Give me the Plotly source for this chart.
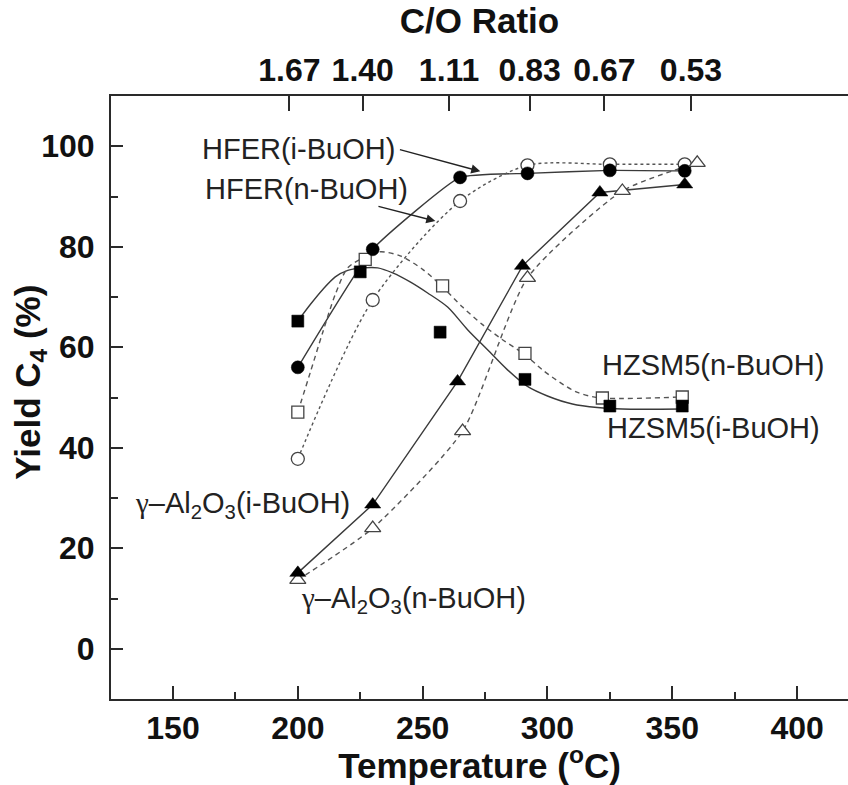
import plotly.graph_objects as go

# ---------------- data ----------------
temp_hfer_i = [200, 230, 265, 292, 325, 355]
hfer_i = [56.0, 79.5, 93.8, 94.6, 95.2, 95.1]

temp_hfer_n = [200, 230, 265, 292, 325, 355]
hfer_n = [37.8, 69.4, 89.1, 96.2, 96.4, 96.4]

temp_zsm_i = [200, 225, 257, 291, 325, 354]
zsm_i = [65.2, 75.0, 63.0, 53.6, 48.3, 48.3]

temp_zsm_n = [200, 227, 258, 291, 322, 354]
zsm_n = [47.1, 77.5, 72.2, 58.8, 49.9, 50.1]

# smooth fitted curves as drawn through the HZSM5 data
fit_zsm_i_t = [200, 205, 210, 215, 220, 226, 232, 238, 245, 252, 260, 268, 276, 284, 292, 300, 310, 320, 330, 354]
fit_zsm_i_y = [65.2, 68.5, 71.5, 74.0, 75.3, 75.8, 75.8, 74.8, 73.0, 70.8, 68.0, 63.5, 59.5, 55.5, 52.2, 50.3, 48.7, 48.0, 47.7, 47.7]
fit_zsm_n_t = [200, 205, 210, 215, 220, 227, 233, 241, 250, 258, 266, 274, 282, 291, 298, 305, 312, 320, 330, 354]
fit_zsm_n_y = [47.1, 55.0, 63.0, 70.5, 75.8, 78.0, 79.0, 78.2, 75.5, 72.0, 68.0, 64.5, 61.5, 58.5, 55.5, 53.0, 51.0, 50.0, 49.8, 50.1]

temp_al_i = [200, 230, 264, 290, 321, 355]
al_i = [15.1, 28.7, 53.2, 76.2, 90.8, 92.4]

temp_al_n = [200, 230, 266, 292, 330, 360]
al_n = [13.7, 24.0, 43.3, 73.8, 91.1, 96.7]

co_ratio_pos = [196.6, 226.0, 260.6, 292.9, 322.8, 357.5]
co_ratio_labels = ["1.67", "1.40", "1.11", "0.83", "0.67", "0.53"]

x_ticks = [150, 200, 250, 300, 350, 400]
y_ticks = [0, 20, 40, 60, 80, 100]

# ---------------- styling ----------------
FONT = "Liberation Sans, Arial, sans-serif"
LINE_C = "#3a3a3a"
DASH_C = "#555555"
AX_C = "#2a2a2a"

fig = go.Figure()

def solid(x, y, shape="spline", smoothing=0.6):
    fig.add_trace(go.Scatter(x=x, y=y, mode="lines", showlegend=False, hoverinfo="skip",
                             line=dict(color=LINE_C, width=1.4, shape=shape, smoothing=smoothing)))

def dashed(x, y, dash="5px,4px", shape="spline", smoothing=0.8):
    fig.add_trace(go.Scatter(x=x, y=y, mode="lines", showlegend=False, hoverinfo="skip",
                             line=dict(color=DASH_C, width=1.4, dash=dash, shape=shape, smoothing=smoothing)))

def marks(x, y, symbol, filled, size):
    if filled:
        m = dict(symbol=symbol, size=size, color="black", line=dict(color="black", width=0.5))
    else:
        m = dict(symbol=symbol, size=size, color="white", line=dict(color="#444444", width=1.3))
    fig.add_trace(go.Scatter(x=x, y=y, mode="markers", showlegend=False, marker=m))

# lines
solid(temp_hfer_i, hfer_i, smoothing=0.4)
dashed(temp_hfer_n, hfer_n, dash="3px,3px")
solid(fit_zsm_i_t, fit_zsm_i_y, smoothing=0.8)
dashed(fit_zsm_n_t, fit_zsm_n_y, smoothing=0.8)
solid(temp_al_i, al_i, shape="linear")
dashed(temp_al_n, al_n, smoothing=0.6)

# markers
marks(temp_zsm_n, zsm_n, "square", False, 12)
marks(temp_zsm_i, zsm_i, "square", True, 12)
marks(temp_hfer_n, hfer_n, "circle", False, 13)
marks(temp_hfer_i, hfer_i, "circle", True, 13)
marks(temp_al_n, al_n, "triangle-up", False, 14)
marks(temp_al_i, al_i, "triangle-up", True, 14)

# dummy trace to activate the top axis
fig.add_trace(go.Scatter(x=[co_ratio_pos[0]], y=[None], xaxis="x2", mode="markers",
                         showlegend=False, hoverinfo="skip"))

# ---------------- annotations ----------------
ann_font = dict(family=FONT, size=29, color="#222222")
GAMMA = '<span style="font-family:Liberation Serif, Times New Roman, serif">γ</span>'
labels = [
    ("HFER(i-BuOH)", 200.4, 99.4),
    ("HFER(n-BuOH)", 203.6, 91.4),
    ("HZSM5(n-BuOH)", 366.3, 56.5),
    ("HZSM5(i-BuOH)", 366.4, 44.0),
    (GAMMA + "–Al<sub>2</sub>O<sub>3</sub>(i-BuOH)", 177.9, 28.7),
    (GAMMA + "–Al<sub>2</sub>O<sub>3</sub>(n-BuOH)", 246.5, 9.8),
]
for txt, x, y in labels:
    fig.add_annotation(x=x, y=y, xref="x", yref="y", text=txt, showarrow=False,
                       font=ann_font, xanchor="center", yanchor="middle")

arrows = [
    (240.3, 99.4, 273.1, 95.0),
    (231.7, 88.1, 255.1, 85.1),
]
for tx, ty, hx, hy in arrows:
    fig.add_annotation(x=hx, y=hy, ax=tx, ay=ty, xref="x", yref="y", axref="x", ayref="y",
                       text="", showarrow=True, arrowhead=2, arrowsize=1.3, arrowwidth=1.4,
                       arrowcolor="#222222", standoff=0, startstandoff=0)

# ---------------- layout ----------------
tick_font = dict(family=FONT, size=32, color="#111111", weight="bold")
title_font = dict(family=FONT, size=35, color="#111111", weight="bold")

# y-axis title as rotated annotation (placed like the reference)
fig.add_annotation(text="Yield C<sub>4</sub> (%)", xref="paper", yref="paper",
                   x=-0.11, y=0.526, showarrow=False, textangle=-90,
                   font=title_font, xanchor="center", yanchor="middle")

fig.update_layout(
    width=848, height=785,
    margin=dict(l=111, r=0, t=96, b=86),
    paper_bgcolor="white", plot_bgcolor="white",
    font=dict(family=FONT),
    xaxis=dict(
        range=[125.16, 420.4], tickvals=x_ticks, ticks="inside", ticklen=13, tickwidth=2,
        tickcolor=AX_C, showline=True, linecolor=AX_C, linewidth=2, showgrid=False,
        zeroline=False, tickfont=tick_font, ticklabelstandoff=0,
        minor=dict(dtick=25, tick0=125, ticks="inside", ticklen=7, tickwidth=2, tickcolor=AX_C, showgrid=False),
        title=dict(text="Temperature (<sup>o</sup>C)", font=title_font, standoff=8),
    ),
    xaxis2=dict(
        overlaying="x", side="top", range=[125.16, 420.4], tickvals=co_ratio_pos,
        ticktext=co_ratio_labels, ticks="inside", ticklen=15, tickwidth=2, tickcolor=AX_C,
        showline=True, linecolor=AX_C, linewidth=2, showgrid=False, zeroline=False,
        tickfont=tick_font, ticklabelstandoff=0,
        title=dict(text="C/O Ratio", font=title_font, standoff=8),
    ),
    yaxis=dict(
        range=[-10, 110], tickvals=y_ticks, ticks="inside", ticklen=12, tickwidth=2,
        tickcolor=AX_C, showline=True, linecolor=AX_C, linewidth=2, showgrid=False,
        zeroline=False, tickfont=tick_font, ticklabelstandoff=8,
        minor=dict(dtick=10, tick0=-10, ticks="inside", ticklen=7, tickwidth=2, tickcolor=AX_C, showgrid=False),
    ),
)

fig.write_html("out.html")
